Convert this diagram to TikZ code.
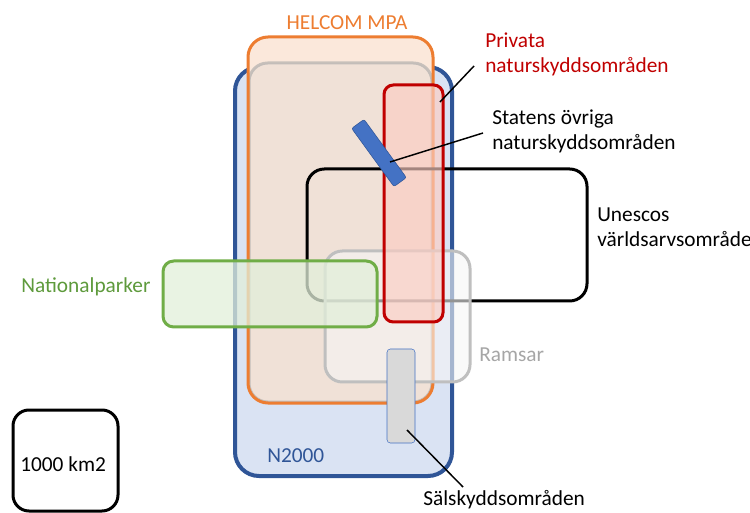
\documentclass[tikz,border=0pt]{standalone}
\usepackage{fontspec}
\setmainfont{Carlito}
\usetikzlibrary{positioning,calc}
\definecolor{natblue}{HTML}{2F5597}
\definecolor{natfill}{HTML}{DAE3F3}
\definecolor{helorange}{HTML}{ED7D31}
\definecolor{helfill}{HTML}{FBE8DB}
\definecolor{privred}{HTML}{C00000}
\definecolor{privfill}{HTML}{FCCDC3}
\definecolor{ramgrey}{HTML}{BFBFBF}
\definecolor{ramtext}{HTML}{A6A6A6}
\definecolor{natgreen}{HTML}{70AD47}
\definecolor{natgreenfill}{HTML}{E2EFDA}
\definecolor{nattext}{HTML}{5E9A3C}
\definecolor{statblue}{HTML}{4472C4}
\definecolor{salgrey}{HTML}{D9D9D9}

\begin{document}
\begin{tikzpicture}[x=0.75pt, y=-0.75pt,
    zone/.style={line width=2.25pt, rounded corners=#1},
    lbl/.style={font=\fontsize{16}{18.75}\selectfont, inner sep=0pt, anchor=base west, align=left},
    pointer/.style={line width=1.1pt}]
    \useasboundingbox (0,0) rectangle (750,513);

    % N2000
    \draw[zone=18pt, line width=3pt, draw=natblue, fill=natfill] (235,67) rectangle (452,476);
    % HELCOM MPA
    \fill[rounded corners=15pt, helfill] (248,37) rectangle (433,403);
    \draw[zone=14pt, draw=gray!70, draw opacity=0.6, fill=gray!40, fill opacity=0.22] (249,63) rectangle (432,402);
    \draw[zone=15pt, draw=helorange] (248,37) rectangle (433,403);
    % Unescos världsarvsområde
    \draw[zone=13pt, black] (307,169) rectangle (587,301);
    % Ramsar
    \draw[zone=13pt, draw=ramgrey, fill=gray!8, fill opacity=0.6] (325,251) rectangle (470,382);
    % privata
    \draw[zone=7pt, draw=privred, fill=privfill, fill opacity=0.65] (384,85) rectangle (443,322);
    % nationalparker
    \draw[zone=8pt, draw=natgreen, fill=natgreenfill, fill opacity=0.75] (163,261) rectangle (377,327);
    % statens övriga
    \node[draw=natblue, fill=statblue, thin, rounded corners=1.5pt, inner sep=0pt,
          minimum width=54pt, minimum height=11.5pt, rotate=-54] (statbar) at (379,153) {};
    % sälskydd
    \draw[rounded corners=2.5pt, draw=statblue, thin, fill=salgrey] (387,349) rectangle (415,443);
    % skala
    \draw[zone=12pt] (13,410) rectangle (118,511);

    % texter (baslinje = sista raden)
    \node[lbl, helorange, anchor=base] (helcomlab) at (347,30) {HELCOM MPA};
    \node[lbl, privred] (privlab) at (485,73) {Privata\\naturskyddsområden};
    \node[lbl] (statlab) at (492,150) {Statens övriga\\naturskyddsområden};
    \node[lbl] (unesclab) at (597,247) {Unescos\\världsarvsområde};
    \node[lbl, nattext] (natlab) at (21,293) {Nationalparker};
    \node[lbl, ramtext] (ramlab) at (479,362) {Ramsar};
    \node[lbl, natblue] (n2klab) at (267,462) {N2000};
    \node[lbl] (skallab) at (20,471) {1000 km2};
    \node[lbl] (sallab) at (423,505) {Sälskyddsområden};

    % pekare
    \coordinate (privpt) at (440,102);
    \coordinate (privend) at (474,66);
    \coordinate (statpt) at (390,162);
    \coordinate (statend) at (483,133);
    \coordinate (salpt) at (407,430);
    \coordinate (salend) at (463,487);
    \draw[pointer] (privpt) -- (privend);
    \draw[pointer] (statpt) -- (statend);
    \draw[pointer] (salpt) -- (salend);
\end{tikzpicture}
\end{document}
